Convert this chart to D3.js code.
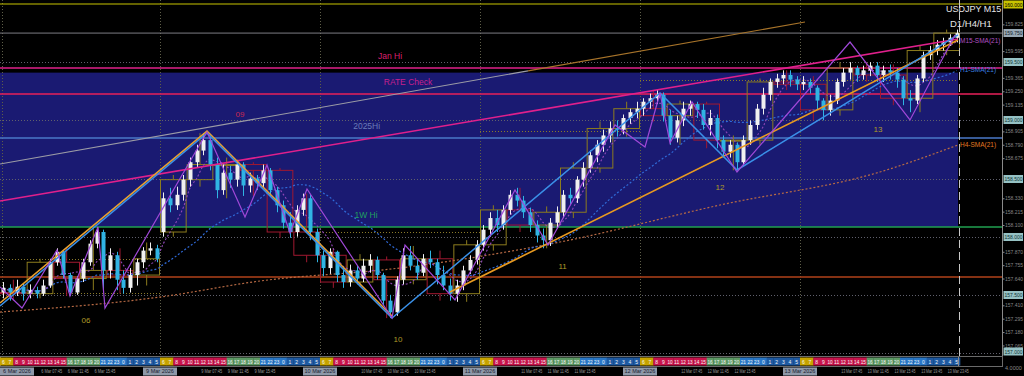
<!DOCTYPE html>
<html><head><meta charset="utf-8">
<script src="https://cdn.jsdelivr.net/npm/d3@7/dist/d3.min.js"></script>
<style>
html,body{margin:0;padding:0;background:#000;overflow:hidden;}
svg{display:block;font-family:"Liberation Sans",Arial,sans-serif;}
</style></head><body>
<svg id="chart" width="1024" height="376"></svg>
<script>
// ================= DATA =================
const symbolTitle = "USDJPY M15";
const subTitle = "D1/H4/H1";

// hourly OHLC (bar index = hour since 6 Mar 00:00 server time)
const openP = [
157.52,157.56,157.52,157.57,157.51,157.54,157.51,157.58,157.78,157.87,157.67,157.52,157.64,157.78,157.94,158.04,157.71,157.84,157.63,157.56,157.67,157.78,157.88,157.90,
158.04,158.33,158.27,158.36,158.49,158.64,158.74,158.83,158.62,158.40,158.55,158.49,158.62,158.44,158.50,158.46,158.57,158.40,158.27,158.12,158.04,158.23,158.33,158.04,
157.84,157.73,157.87,157.67,157.61,157.71,157.64,157.75,157.80,157.67,157.45,157.35,157.63,157.84,157.75,157.69,157.81,157.78,157.67,157.58,157.51,157.58,157.71,157.80,
157.93,158.06,158.16,158.10,158.23,158.36,158.31,158.21,158.10,158.01,157.97,158.12,158.21,158.36,158.33,158.49,158.59,158.70,158.79,158.87,158.93,158.92,159.02,159.07,
159.10,159.16,159.19,159.22,159.04,158.85,159.00,159.10,159.14,159.09,158.96,159.02,158.83,158.73,158.79,158.64,158.83,158.96,159.10,159.22,159.33,159.36,159.39,159.35,
159.31,159.33,159.28,159.17,159.09,159.17,159.33,159.41,159.45,159.39,159.43,159.47,159.39,159.43,159.41,159.35,159.19,159.17,159.36,159.56,159.60,159.65,159.67,159.71];
const highP = [
157.61,157.59,157.63,157.60,157.59,157.57,157.63,157.81,157.90,157.88,157.69,157.66,157.81,157.97,158.08,158.06,157.90,157.87,157.71,157.73,157.81,157.91,157.95,157.93,
158.38,158.42,158.43,158.53,158.68,158.79,158.89,158.87,158.68,158.62,158.61,158.66,158.64,158.55,158.53,158.62,158.59,158.43,158.31,158.21,158.27,158.37,158.36,158.07,
157.88,157.90,157.88,157.73,157.76,157.75,157.81,157.85,157.83,157.69,157.50,157.66,157.90,157.92,157.81,157.85,157.88,157.81,157.75,157.64,157.63,157.75,157.84,157.97,
158.10,158.21,158.23,158.27,158.40,158.42,158.35,158.25,158.14,158.07,158.16,158.26,158.40,158.42,158.52,158.64,158.74,158.83,158.92,158.99,159.00,159.05,159.10,159.16,
159.19,159.23,159.26,159.24,159.09,159.04,159.16,159.17,159.16,159.14,159.09,159.05,158.87,158.83,158.81,158.87,159.00,159.14,159.28,159.36,159.40,159.43,159.43,159.38,
159.38,159.36,159.30,159.19,159.22,159.36,159.45,159.50,159.47,159.47,159.50,159.50,159.47,159.48,159.45,159.38,159.26,159.39,159.59,159.64,159.69,159.71,159.74,159.78];
const lowP = [
157.47,157.45,157.49,157.45,157.47,157.47,157.49,157.56,157.75,157.64,157.49,157.50,157.61,157.75,157.90,157.54,157.64,157.54,157.51,157.52,157.58,157.73,157.84,157.78,
158.00,158.21,158.23,158.31,158.43,158.59,158.70,158.57,158.33,158.36,158.42,158.43,158.35,158.38,158.40,158.42,158.35,158.21,158.07,157.99,158.00,158.18,157.97,157.78,
157.66,157.68,157.61,157.56,157.57,157.59,157.61,157.69,157.63,157.41,157.30,157.32,157.59,157.71,157.63,157.66,157.73,157.59,157.54,157.45,157.44,157.54,157.68,157.76,
157.88,158.00,158.04,158.06,158.19,158.26,158.16,158.04,157.95,157.90,157.92,158.07,158.16,158.27,158.29,158.43,158.55,158.64,158.73,158.81,158.86,158.88,158.97,159.02,
159.04,159.10,159.14,158.99,158.79,158.81,158.95,159.04,159.02,158.92,158.87,158.76,158.68,158.68,158.57,158.61,158.79,158.92,159.05,159.17,159.28,159.31,159.29,159.26,
159.26,159.23,159.09,159.00,159.04,159.14,159.29,159.35,159.33,159.35,159.38,159.33,159.33,159.35,159.28,159.13,159.07,159.14,159.33,159.52,159.56,159.60,159.64,159.67];
const closeP = [
157.56,157.52,157.57,157.51,157.54,157.51,157.58,157.78,157.87,157.67,157.52,157.64,157.78,157.94,158.04,157.71,157.84,157.63,157.56,157.67,157.78,157.88,157.90,157.81,
158.33,158.27,158.36,158.49,158.64,158.74,158.83,158.62,158.40,158.55,158.49,158.62,158.44,158.50,158.46,158.57,158.40,158.27,158.12,158.04,158.23,158.33,158.04,157.84,
157.73,157.87,157.67,157.61,157.71,157.64,157.75,157.80,157.67,157.45,157.35,157.63,157.84,157.75,157.69,157.81,157.78,157.67,157.58,157.51,157.58,157.71,157.80,157.93,
158.06,158.16,158.10,158.23,158.36,158.31,158.21,158.10,158.01,157.97,158.12,158.21,158.36,158.33,158.49,158.59,158.70,158.79,158.87,158.93,158.92,159.02,159.07,159.10,
159.16,159.19,159.22,159.04,158.85,159.00,159.10,159.14,159.09,158.96,159.02,158.83,158.73,158.79,158.64,158.83,158.96,159.10,159.22,159.33,159.36,159.39,159.35,159.31,
159.33,159.28,159.17,159.09,159.17,159.33,159.41,159.45,159.39,159.43,159.47,159.39,159.43,159.41,159.35,159.19,159.17,159.36,159.56,159.60,159.65,159.67,159.71,159.75];

// time axis
const dayNames = ["6 Mar","9 Mar","10 Mar","11 Mar","12 Mar","13 Mar"];
const dayYear = "2026";
const dayStartHours = [0,24,48,72,96,120];
const timeLabels = ["03:45","07:45","11:45","15:45","19:45","23:45"];
const timeLabelHours = [3.75,7.75,11.75,15.75,19.75,23.75];
const hourCells = [6,7,8,9,10,11,12,13,14,15,16,17,18,19,20,21,22,23,0,1,2,3,4,5];

// price axis
const tickValues = [159.940,159.825,159.710,159.595,159.480,159.365,159.250,159.135,159.020,158.905,158.790,158.675,158.560,158.445,158.330,158.215,158.100,157.985,157.870,157.755,157.640,157.525,157.410,157.295,157.180,157.065];
const roundLevels = [159.5,159.0,158.5,158.0,157.5,157.0];
const topLevel = 160.000;

// horizontal levels
const levelNames = ["Jan Hi","RATE Check","2025Hi","1W Hi"];
const levelPrices = [159.450,159.226,158.848,158.083];
const levelLabelHours = [58.5,61.2,55.0,54.9];
const supportLevel = 157.653;
const zoneTop = 159.41, zoneBottom = 158.083, zoneEndHour = 143.7;

// previous-range dotted segments
const dotStartHours = [0,0,48,72,96];
const dotEndHours = [24,24,72,96,143.7];
const dotPrices = [157.81,157.52,158.04,158.91,159.35];

// trend lines
const tanHours = [0,79.2,120.75];
const tanPrices = [158.625,159.425,159.845];
const pinkHours = [0,143.7];
const pinkPrices = [158.307,159.699];
const orangeTrendHours = [67.5,143.7];
const orangeTrendPrices = [157.524,159.691];
const orangeZigHours = [0,31.05,58.8];
const orangeZigPrices = [157.430,158.908,157.318];
const blueZigHours = [0,31.05,58.8,99,110.55,143.7];
const blueZigPrices = [157.404,158.891,157.301,159.235,158.573,159.734];
const purpleZigHours = [0,3.3,8.55,10.5,14.7,15.75,31.05,36.75,40.05,43.5,46.05,58.8,60.75,68.25,77.25,82.2,92.25,96.75,99,100.5,103.8,110.55,127.5,136.5,143.25];
const purpleZigPrices = [157.567,157.387,157.885,157.490,158.083,157.387,158.900,158.169,158.616,158.031,158.410,157.301,157.928,157.456,158.401,157.928,158.960,158.771,159.235,158.805,159.158,158.556,159.673,159.003,159.734];

// H4 SMA(21)
const h4SmaHours = [0,24,39,60,84,108,132,143.7];
const h4SmaPrices = [157.352,157.481,157.619,157.731,157.954,158.272,158.556,158.788];

// wave labels
const waveNames = ["06","09","10","11","12","13"];
const waveHours = [12.9,36.0,59.7,84.4,108.0,131.7];
const wavePrices = [157.275,159.046,157.112,157.739,158.418,158.917];

// ================= DRAW =================
const svg = d3.select("#chart");
const x = d3.scaleLinear().domain([0,144]).range([0,960]);
const y = d3.scaleLinear().domain([157,160]).range([353,4]);
const AXX = 1002.5, PANEL_BOTTOM = 356;

svg.append("rect").attr("width",1024).attr("height",376).attr("fill","#000");
svg.append("defs").append("clipPath").attr("id","plotclip")
  .append("rect").attr("x",0).attr("y",0).attr("width",1002).attr("height",PANEL_BOTTOM);
const g = svg.append("g").attr("clip-path","url(#plotclip)");
const ln = d3.line().x(d=>x(d[0])).y(d=>y(d[1]));

// zone
g.append("rect").attr("x",x(0)).attr("width",x(zoneEndHour)-x(0))
  .attr("y",y(zoneTop)).attr("height",y(zoneBottom)-y(zoneTop)).attr("fill","#1a1a72");

// round-number dotted levels
g.selectAll(".rl").data(roundLevels).join("line")
  .attr("x1",0).attr("x2",1002).attr("y1",d=>Math.round(y(d))+0.5).attr("y2",d=>Math.round(y(d))+0.5)
  .attr("stroke","#60606c").attr("stroke-dasharray","1,2");

// day separators
g.selectAll(".dl").data(dayStartHours).join("line")
  .attr("x1",d=>Math.max(2.5,Math.round(x(d))+0.5)).attr("x2",d=>Math.max(2.5,Math.round(x(d))+0.5))
  .attr("y1",0).attr("y2",PANEL_BOTTOM).attr("stroke","#5e5e48").attr("stroke-dasharray","1,2");

// dotted range segments
g.selectAll(".ds").data(d3.range(dotPrices.length)).join("line")
  .attr("x1",i=>x(dotStartHours[i])).attr("x2",i=>x(dotEndHours[i]))
  .attr("y1",i=>Math.round(y(dotPrices[i]))+0.5).attr("y2",i=>Math.round(y(dotPrices[i]))+0.5)
  .attr("stroke","#8a7a2a").attr("stroke-dasharray","1,2");

// horizontal level lines
const hline = (p,col,w)=> g.append("line").attr("x1",0).attr("x2",1002)
  .attr("y1",y(p)).attr("y2",y(p)).attr("stroke",col).attr("stroke-width",w||1);
hline(topLevel,"#c8c400",1.2);
hline(closeP[closeP.length-1],"#7c7c84",1);
const levelColors = ["#e0208a","#e8205a","#4a78c8","#20a050"];
levelPrices.forEach((p,i)=>hline(p,levelColors[i],1.6));
hline(supportLevel,"#b0421a",1.4);

// H4 boxes aggregated from hourly bars
const h4 = d3.range(Math.ceil(closeP.length/4)).map(k=>{
  const idx = d3.range(k*4, Math.min(k*4+4, closeP.length));
  return {k, o:openP[idx[0]], c:closeP[idx[idx.length-1]],
    h:d3.max(idx,i=>highP[i]), l:d3.min(idx,i=>lowP[i]), n:idx.length};
});
const h4col = d=> d.c>=d.o ? "#8c7c1e" : "#a01830";
const h4g = g.append("g");
h4g.selectAll("rect").data(h4).join("rect")
  .attr("x",d=>x(d.k*4)+0.5).attr("width",d=>x(d.k*4+d.n)-x(d.k*4)-1)
  .attr("y",d=>y(Math.max(d.o,d.c))).attr("height",d=>Math.max(1,Math.abs(y(d.o)-y(d.c))))
  .attr("fill","none").attr("stroke",h4col);
h4g.selectAll("line.up").data(h4).join("line")
  .attr("x1",d=>x(d.k*4+d.n/2)).attr("x2",d=>x(d.k*4+d.n/2))
  .attr("y1",d=>y(d.h)).attr("y2",d=>y(Math.max(d.o,d.c))).attr("stroke",h4col);
h4g.selectAll("line.dn").data(h4).join("line")
  .attr("x1",d=>x(d.k*4+d.n/2)).attr("x2",d=>x(d.k*4+d.n/2))
  .attr("y1",d=>y(Math.min(d.o,d.c))).attr("y2",d=>y(d.l)).attr("stroke",h4col);

// SMAs
const sma = n => closeP.map((c,i)=>{ const a=closeP.slice(Math.max(0,i-n+1),i+1); return [i+0.5,d3.mean(a)]; });
const smaM15 = sma(5), smaH1 = sma(21);
const cl = d3.line().x(d=>x(d[0])).y(d=>y(d[1])).curve(d3.curveMonotoneX);
g.append("path").attr("d",cl(d3.zip(h4SmaHours,h4SmaPrices)))
  .attr("fill","none").attr("stroke","#b86a44").attr("stroke-width",1.2).attr("stroke-dasharray","2,2");
g.append("path").attr("d",cl(smaH1))
  .attr("fill","none").attr("stroke","#2f6ad8").attr("stroke-width",1.2).attr("stroke-dasharray","2,2");
g.append("path").attr("d",cl(smaM15))
  .attr("fill","none").attr("stroke","#9048b8").attr("stroke-width",1.1).attr("stroke-dasharray","2,2");

// candles
const bars = d3.range(closeP.length).map(i=>({i,o:openP[i],h:highP[i],l:lowP[i],c:closeP[i]}));
const ccol = d=> d.c>=d.o ? "#f0f0f0" : "#30b4e4";
const cg = g.append("g");
cg.selectAll("line").data(bars).join("line")
  .attr("x1",d=>Math.round(x(d.i+0.5))+0.5).attr("x2",d=>Math.round(x(d.i+0.5))+0.5)
  .attr("y1",d=>y(d.h)).attr("y2",d=>y(d.l)).attr("stroke",ccol);
cg.selectAll("rect").data(bars).join("rect")
  .attr("x",d=>Math.round(x(d.i+0.5))-1.5).attr("width",4)
  .attr("y",d=>y(Math.max(d.o,d.c))).attr("height",d=>Math.max(1,Math.abs(y(d.o)-y(d.c))))
  .attr("fill",ccol);

// trend lines
const tanPts = d3.zip(tanHours,tanPrices);
g.append("path").attr("d",ln(tanPts.slice(0,2))).attr("stroke","#9c9ca6").attr("fill","none").attr("stroke-width",1.1);
g.append("path").attr("d",ln(tanPts.slice(1,3))).attr("stroke","#a8742a").attr("fill","none").attr("stroke-width",1.1);
g.append("path").attr("d",ln(d3.zip(pinkHours,pinkPrices))).attr("stroke","#e0208c").attr("fill","none").attr("stroke-width",1.6);
g.append("path").attr("d",ln(d3.zip(orangeTrendHours,orangeTrendPrices))).attr("stroke","#e89a20").attr("fill","none").attr("stroke-width",1.6);
g.append("path").attr("d",ln(d3.zip(orangeZigHours,orangeZigPrices))).attr("stroke","#e8a030").attr("fill","none").attr("stroke-width",1.6);
g.append("path").attr("d",ln(d3.zip(blueZigHours,blueZigPrices))).attr("stroke","#3a90e8").attr("fill","none").attr("stroke-width",1.5);
g.append("path").attr("d",ln(d3.zip(purpleZigHours,purpleZigPrices))).attr("stroke","#a048d8").attr("fill","none").attr("stroke-width",1.2);

// level labels
const levelTextColors = ["#d8206e","#c8208e","#6a7ab8","#20a060"];
g.selectAll(".lt").data(levelNames).join("text")
  .attr("x",(d,i)=>x(levelLabelHours[i])).attr("y",(d,i)=>y(levelPrices[i])-9)
  .attr("text-anchor","middle").attr("font-size","8.5px").attr("fill",(d,i)=>levelTextColors[i]).text(d=>d);

// wave labels
g.selectAll(".wt").data(waveNames).join("text")
  .attr("x",(d,i)=>x(waveHours[i])).attr("y",(d,i)=>y(wavePrices[i]))
  .attr("text-anchor","middle").attr("dominant-baseline","middle").attr("font-size","8px")
  .attr("fill",(d,i)=>i===1?"#c82850":"#b09a28").text(d=>d);

// SMA labels
const lastM15 = smaM15[smaM15.length-1][1], lastH1 = smaH1[smaH1.length-1][1], lastH4 = h4SmaPrices[h4SmaPrices.length-1];
[["M15-SMA(21)",lastM15,"#b050c0"],["H1-SMA(21)",lastH1,"#3a80e0"],["H4-SMA(21)",lastH4,"#e07820"]].forEach(a=>{
  svg.append("text").attr("x",960).attr("y",y(a[1])).attr("dominant-baseline","middle")
    .attr("font-size","6.5px").attr("fill",a[2]).text(a[0]);
});

// chart-shift dashed line
svg.append("line").attr("x1",959.5).attr("x2",959.5).attr("y1",0).attr("y2",PANEL_BOTTOM)
  .attr("stroke","#c8c8c8").attr("stroke-dasharray","8,4").attr("stroke-width",1);

// titles
svg.append("text").attr("x",946).attr("y",12).attr("font-size","9px").attr("fill","#e6e6e6").text(symbolTitle);
svg.append("text").attr("x",950).attr("y",27).attr("font-size","9.5px").attr("fill","#e6e6e6").text(subTitle);

// price axis marks (highlighted levels)
const marks = [{v:topLevel,bg:"#c8c400",fg:"#000"},{v:closeP[closeP.length-1],bg:"#98a8b4",fg:"#10202a"}]
  .concat(roundLevels.map(v=>({v,bg:"#96c2c4",fg:"#0e3436"})));
const markYs = marks.map(m=>y(m.v));

// price axis
const visibleTicks = tickValues.filter(v=>markYs.every(my=>Math.abs(my-y(v))>7.5));
const axis = d3.axisRight(y).tickValues(visibleTicks).tickSize(2).tickSizeOuter(0).tickPadding(0.5).tickFormat(d3.format(".3f"));
const ag = svg.append("g").attr("transform",`translate(${AXX},0)`).call(axis);
ag.select(".domain").remove();
ag.selectAll("line").attr("stroke","#8a8a8a");
ag.selectAll("text").attr("fill","#858585").attr("font-size","5px")
  .attr("font-family","Liberation Sans, Arial, sans-serif");
svg.append("line").attr("x1",AXX).attr("x2",AXX).attr("y1",0).attr("y2",367).attr("stroke","#8a8a8a");

const mg = svg.append("g");
marks.forEach(m=>{
  const yy = Math.min(Math.max(Math.round(y(m.v)),4.5),351.5);
  mg.append("rect").attr("x",1003.5).attr("y",yy-4).attr("width",19.5).attr("height",8).attr("fill",m.bg);
  mg.append("text").attr("x",1004.5).attr("y",yy+2).attr("font-size","5px").attr("fill",m.fg)
    .text(d3.format(".3f")(m.v));
});

// bottom hour bar
const hourColor = h => (h===6||h===7) ? "#c8a400" : (h>=8&&h<=15) ? "#c8144c" : (h>=16&&h<=20) ? "#5e9a66" : (h>=21||h===0) ? "#2a78c8" : "#1f5aa2";
const hb = svg.append("g");
hb.append("rect").attr("x",0.5).attr("y",356.5).attr("width",1002).attr("height",10).attr("fill","none").attr("stroke","#6a6a6a");
dayStartHours.forEach(ds=>{
  hourCells.forEach((h,k)=>{
    const x0 = x(ds+k), x1 = x(ds+k+1);
    hb.append("rect").attr("x",x0).attr("y",357.5).attr("width",x1-x0+0.3).attr("height",8).attr("fill",hourColor(h));
    const t = hb.append("text").attr("x",(x0+x1)/2).attr("y",363.5).attr("text-anchor","middle")
      .attr("font-size","5px").attr("fill","#f4f4f4").text(h);
    if (String(h).length>1) t.attr("textLength",5.2).attr("lengthAdjust","spacingAndGlyphs");
  });
});
hb.append("line").attr("x1",958.5).attr("x2",958.5).attr("y1",357).attr("y2",366).attr("stroke","#8a8a8a");
svg.append("text").attr("x",1005).attr("y",370).attr("font-size","5.5px").attr("fill","#8a8a8a").text("4.0000");

// date labels
const dg = svg.append("g");
const BOXW = 34, LBLW = 21, LBL_CLEAR = 30;
const boxCenters = dayStartHours.map(ds=>Math.max(BOXW/2, x(ds)));
dayStartHours.forEach((ds,d)=>{
  timeLabelHours.forEach((th,k)=>{
    const cx = x(ds+th);
    const hit = boxCenters.some(bc=>Math.abs(bc-cx) < BOXW/2 + LBL_CLEAR/2);
    if (hit || cx + LBLW/2 > 1001) return;
    dg.append("text").attr("transform",`translate(${cx},373) scale(1,1.3)`).attr("text-anchor","middle")
      .attr("font-size","4.1px").attr("fill","#9a9a9a")
      .attr("textLength",LBLW).attr("lengthAdjust","spacingAndGlyphs").text(dayNames[d]+" "+timeLabels[k]);
  });
});
boxCenters.forEach((cx,d)=>{
  dg.append("rect").attr("x",cx-BOXW/2).attr("y",367.5).attr("width",BOXW).attr("height",8).attr("fill","#8e98a8");
  dg.append("text").attr("x",cx).attr("y",373.3).attr("text-anchor","middle")
    .attr("font-size","5.5px").attr("fill","#1a2030").text(dayNames[d]+" "+dayYear);
});
</script>
</body></html>
